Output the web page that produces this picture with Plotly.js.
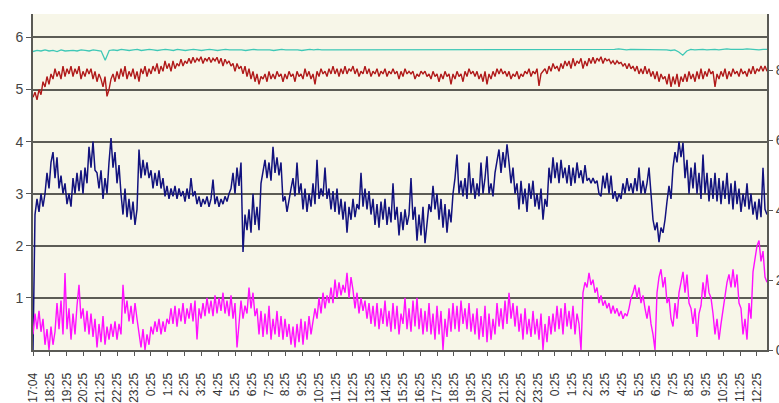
<!DOCTYPE html>
<html>
<head>
<meta charset="utf-8">
<script src="https://cdn.plot.ly/plotly-3.0.1.min.js"></script>
<style>
html,body{margin:0;padding:0;background:#fff;}
#chart{width:779px;height:403px;}
</style>
</head>
<body>
<div id="chart"></div>
<script>
// Time labels along the x axis (one per hour tick)
const timeLabels = ['17:04','18:25','19:25','20:25','21:25','22:25','23:25',
  '0:25','1:25','2:25','3:25','4:25','5:25','6:25','7:25','8:25','9:25','10:25','11:25',
  '12:25','13:25','14:25','15:25','16:25','17:25','18:25','19:25','20:25','21:25','22:25','23:25',
  '0:25','1:25','2:25','3:25','4:25','5:25','6:25','7:25','8:25','9:25','10:25','11:25','12:25'];

// Span of the record, in hour-tick units
const recordSpan = 43.6;

// Series values (equally spaced samples over the whole record)
const tealValues = [
  5.73,5.75,5.74,5.76,5.74,5.75,5.73,5.76,5.74,5.75, 5.75,5.74,5.76,5.75,5.74,5.76,5.75,5.74,5.56,5.75,
  5.76,5.75,5.77,5.76,5.75,5.76,5.77,5.75,5.76,5.77, 5.76,5.75,5.76,5.77,5.76,5.75,5.77,5.76,5.75,5.76,
  5.77,5.76,5.75,5.76,5.77,5.76,5.75,5.76,5.77,5.76, 5.76,5.77,5.76,5.75,5.76,5.77,5.76,5.76,5.77,5.76,
  5.75,5.76,5.77,5.76,5.76,5.77,5.76,5.75,5.76,5.77, 5.76,5.77,5.76,5.76,5.77,5.76,5.77,5.76,5.76,5.77,
  5.76,5.77,5.76,5.77,5.76,5.76,5.77,5.76,5.77,5.76, 5.77,5.76,5.77,5.77,5.76,5.77,5.76,5.77,5.76,5.77,
  5.76,5.77,5.77,5.76,5.77,5.76,5.77,5.77,5.76,5.77, 5.77,5.76,5.77,5.76,5.77,5.77,5.76,5.77,5.76,5.77,
  5.77,5.76,5.77,5.77,5.76,5.77,5.77,5.76,5.77,5.77, 5.76,5.77,5.77,5.76,5.77,5.76,5.77,5.77,5.76,5.77,
  5.77,5.76,5.77,5.77,5.76,5.77,5.78,5.77,5.76,5.77, 5.77,5.76,5.77,5.76,5.77,5.77,5.76,5.77,5.76,5.75,
  5.76,5.72,5.66,5.74,5.77,5.76,5.77,5.77,5.76,5.77, 5.77,5.76,5.77,5.78,5.77,5.77,5.76,5.77,5.78,5.77,
  5.77,5.76,5.77,5.77];

const redValues = [
  4.85,4.95,4.8,5.0,4.9,5.15,5.05,5.25,5.1,5.3, 5.2,5.4,5.25,5.35,5.2,5.45,5.25,5.4,5.3,5.45,
  5.25,5.4,5.3,5.45,5.2,5.35,5.25,5.4,5.3,5.4, 5.2,5.35,5.15,5.3,5.2,5.05,5.25,4.87,5.0,5.2,
  5.3,5.15,5.35,5.2,5.4,5.25,5.45,5.2,5.35,5.25, 5.4,5.2,5.35,5.15,5.4,5.3,5.45,5.25,5.4,5.3,
  5.45,5.35,5.5,5.3,5.45,5.35,5.55,5.4,5.5,5.35, 5.55,5.4,5.5,5.45,5.58,5.45,5.55,5.5,5.6,5.5,
  5.62,5.52,5.6,5.55,5.63,5.5,5.6,5.55,5.62,5.52, 5.6,5.55,5.62,5.5,5.6,5.45,5.58,5.5,5.55,5.45,
  5.5,5.35,5.5,5.4,5.45,5.3,5.45,5.25,5.4,5.2, 5.35,5.15,5.3,5.1,5.25,5.2,5.3,5.15,5.35,5.2,
  5.3,5.2,5.35,5.25,5.3,5.15,5.3,5.2,5.35,5.25, 5.3,5.15,5.35,5.25,5.3,5.2,5.4,5.25,5.35,5.2,
  5.3,5.1,5.35,5.25,5.4,5.3,5.35,5.25,5.4,5.3, 5.45,5.3,5.4,5.25,5.4,5.3,5.45,5.3,5.4,5.35,
  5.45,5.3,5.4,5.25,5.35,5.3,5.45,5.3,5.4,5.25, 5.35,5.3,5.4,5.25,5.35,5.3,5.4,5.25,5.35,5.3,
  5.4,5.3,5.35,5.2,5.35,5.25,5.4,5.3,5.35,5.3, 5.35,5.2,5.3,5.25,5.35,5.3,5.35,5.25,5.3,5.2,
  5.35,5.25,5.3,5.15,5.3,5.2,5.35,5.25,5.3,5.1, 5.3,5.2,5.35,5.25,5.3,5.15,5.35,5.25,5.4,5.3,
  5.35,5.25,5.35,5.2,5.3,5.15,5.35,5.1,5.3,5.2, 5.35,5.25,5.4,5.3,5.4,5.3,5.35,5.25,5.35,5.2,
  5.3,5.25,5.35,5.2,5.3,5.25,5.35,5.3,5.4,5.25, 5.35,5.3,5.4,5.07,5.3,5.35,5.4,5.3,5.45,5.35,
  5.5,5.4,5.45,5.35,5.5,5.4,5.55,5.45,5.55,5.4, 5.6,5.45,5.55,5.5,5.6,5.4,5.55,5.45,5.6,5.5,
  5.62,5.5,5.6,5.55,5.63,5.5,5.6,5.55,5.58,5.5, 5.55,5.48,5.55,5.5,5.52,5.45,5.5,5.4,5.5,5.4,
  5.45,5.35,5.45,5.3,5.4,5.3,5.45,5.3,5.4,5.25, 5.35,5.2,5.35,5.15,5.3,5.2,5.25,5.1,5.3,5.05,
  5.25,5.1,5.3,5.05,5.25,5.15,5.3,5.15,5.35,5.2, 5.3,5.15,5.35,5.2,5.4,5.2,5.35,5.25,5.4,5.3,
  5.35,5.05,5.3,5.2,5.35,5.25,5.4,5.2,5.35,5.25, 5.4,5.3,5.35,5.25,5.4,5.3,5.35,5.25,5.4,5.3,
  5.45,5.3,5.4,5.35,5.45,5.35,5.45,5.35];

const blueValues = [
  0.0,2.6,2.9,2.65,3.0,2.75,3.0,3.4,3.1,3.6, 3.8,3.3,3.7,3.1,3.35,3.0,3.2,2.8,3.0,2.75,
  3.3,3.0,3.4,3.05,3.45,3.0,3.5,3.2,3.9,3.5, 4.0,3.45,3.4,3.1,3.45,2.9,3.3,3.0,3.6,4.07,
  3.5,3.8,3.2,3.55,3.0,2.6,3.1,2.55,2.9,2.5, 2.85,2.4,2.7,3.85,3.3,3.65,3.35,3.6,3.3,3.45,
  3.1,3.4,3.15,3.45,3.1,3.3,2.95,3.15,2.9,3.1, 2.95,3.15,2.9,3.1,2.95,3.05,2.85,3.1,2.9,3.3,
  2.95,3.05,2.8,2.95,2.75,2.9,2.8,2.95,2.75,2.9, 3.27,2.8,2.95,2.75,2.9,2.8,2.95,2.85,3.0,3.1,
  3.4,3.0,3.5,3.15,3.6,1.88,2.6,2.3,2.7,2.25, 3.0,2.4,2.75,2.3,3.2,3.4,3.65,3.3,3.6,3.25,
  3.9,3.4,3.7,3.35,3.6,2.85,2.95,2.65,2.9,3.1, 3.3,2.95,3.6,3.0,3.2,2.7,3.1,2.65,3.0,2.75,
  3.2,2.8,3.65,2.9,3.1,2.95,3.5,2.9,3.1,2.7, 3.05,2.65,3.1,2.6,2.9,2.5,2.85,2.25,2.75,2.5,
  2.9,2.55,2.8,2.7,3.4,2.75,3.1,2.7,3.05,2.6, 2.9,2.4,2.8,2.35,2.85,2.5,2.9,2.4,2.75,2.45,
  3.2,2.5,2.75,2.2,2.65,2.3,2.7,2.4,2.6,3.3, 2.5,2.75,2.1,2.6,2.2,2.75,2.05,2.5,2.8,2.65,
  3.15,2.7,3.0,2.5,2.9,2.35,2.8,2.25,2.7,2.45, 3.0,3.3,3.75,3.0,3.25,2.95,3.3,2.9,3.6,3.0,
  3.3,2.9,3.2,2.95,3.6,3.0,3.3,3.72,3.0,3.2, 2.95,3.4,3.6,3.85,3.4,3.8,3.5,3.95,3.6,3.2,
  3.5,3.0,3.2,2.7,3.25,2.8,3.1,2.65,3.2,2.9, 3.25,2.75,3.0,2.7,3.1,2.5,2.9,2.75,3.5,3.2,
  3.7,3.3,3.6,3.2,3.65,3.3,3.5,3.2,3.55,3.15, 3.5,3.2,3.6,3.3,3.45,3.2,3.55,3.25,3.3,3.2,
  3.3,3.2,3.25,3.0,2.95,3.35,3.1,3.4,3.0,3.35, 2.9,3.05,2.85,3.0,2.9,3.2,3.0,3.3,3.05,3.2,
  3.0,3.3,3.05,3.5,3.0,3.25,3.0,3.2,3.5,3.0, 2.5,2.3,2.45,2.07,2.35,2.25,2.5,2.85,3.15,2.9,
  3.5,3.8,3.6,4.0,3.7,3.98,3.3,3.65,3.0,3.5, 3.1,3.6,3.0,3.4,2.9,3.75,3.0,3.4,2.85,3.3,
  2.9,3.4,2.85,3.3,2.8,3.25,2.9,3.4,2.8,3.2, 2.7,3.25,2.8,3.1,2.65,3.0,2.75,3.2,2.7,3.0,
  2.6,2.85,2.5,2.9,2.55,3.5,2.7,2.6];

const magentaValues = [
  0.3,0.7,0.4,0.75,0.35,0.6,0.1,0.4,0.0,0.45, 0.1,0.35,0.9,0.4,0.95,0.3,1.48,0.4,0.8,0.2,
  0.7,0.3,0.85,1.25,0.6,0.8,0.35,0.75,0.3,0.7, 0.25,0.6,0.05,0.5,0.15,0.65,0.1,0.45,0.2,0.5,
  0.25,0.55,0.2,0.5,0.3,1.25,0.7,0.95,0.55,0.85, 0.5,0.9,0.6,0.35,0.05,0.4,0.0,0.3,0.1,0.45,
  0.3,0.55,0.35,0.6,0.3,0.55,0.35,0.6,0.5,0.8, 0.5,0.85,0.45,0.8,0.55,0.9,0.5,0.8,0.6,0.9,
  0.55,0.95,0.2,0.8,0.6,0.9,0.65,1.0,0.7,0.95, 0.65,1.05,0.7,1.0,0.75,1.1,0.7,0.95,0.65,1.05,
  0.6,0.9,0.05,0.5,0.95,0.6,0.85,0.7,1.2,0.8, 1.1,0.65,0.8,0.3,0.75,0.25,0.7,0.3,0.85,0.2,
  0.6,0.3,0.75,0.25,0.65,0.2,0.6,0.25,0.5,0.1, 0.45,0.05,0.5,0.15,0.6,0.1,0.55,0.2,0.65,0.3,
  0.55,0.8,0.6,1.0,0.7,1.1,0.8,1.05,0.9,1.2, 0.9,1.35,1.0,1.3,1.05,1.25,1.1,1.48,1.0,1.4,
  1.15,0.8,1.1,0.7,1.0,0.75,0.95,0.6,0.9,0.5, 0.85,0.45,0.9,0.4,0.8,0.5,0.95,0.45,0.75,0.35,
  0.9,0.4,0.85,0.3,0.7,0.5,1.0,0.4,0.8,0.35, 0.95,0.45,1.0,0.4,0.8,0.3,0.75,0.35,0.9,0.3,
  0.7,0.2,0.85,0.3,0.75,0.0,0.6,0.25,0.8,0.35, 0.9,0.4,0.85,0.35,0.95,0.5,0.8,0.4,0.9,0.35,
  0.7,0.3,0.8,0.2,0.65,0.25,0.85,0.15,0.7,0.2, 0.6,0.3,0.9,0.45,0.8,0.4,0.95,0.5,1.1,0.6,
  0.9,0.45,0.85,0.35,0.7,0.2,0.8,0.3,0.6,0.25, 0.75,0.3,0.6,0.2,0.7,0.0,0.5,0.15,0.65,0.3,
  0.7,0.35,0.85,0.4,0.8,0.3,0.9,0.45,0.75,0.4, 0.85,0.3,0.7,0.5,0.0,1.1,1.3,1.2,1.48,1.25,
  1.35,1.1,1.2,0.9,1.05,0.85,0.95,0.8,0.9,0.7, 0.85,0.7,0.8,0.65,0.75,0.6,0.7,0.65,0.8,1.0,
  1.1,1.25,1.0,1.2,0.9,1.05,0.8,0.6,0.85,0.5, 0.3,0.0,1.1,1.4,1.55,1.2,1.4,0.9,1.0,0.6,
  0.45,0.9,0.6,1.1,1.3,1.5,1.1,1.45,0.9,0.8, 0.5,0.8,0.25,0.7,0.85,1.3,1.0,1.45,1.1,1.0,
  0.7,0.3,0.6,0.2,0.5,0.8,1.0,1.3,1.45,1.2, 1.55,1.2,1.45,0.9,0.8,0.3,0.6,0.2,0.9,0.6,
  1.5,1.8,2.0,2.1,1.7,1.9,1.4,1.3];

function sampleTimes(values) {
  const n = values.length;
  return values.map((_, i) => i * recordSpan / (n - 1));
}

function series(values, color, width) {
  return {
    type: 'scatter', mode: 'lines',
    x: sampleTimes(values), y: values,
    line: {color: color, width: width},
    hoverinfo: 'skip', showlegend: false
  };
}

const traces = [
  series(tealValues, '#3fc8b6', 1.3),
  series(redValues, '#b01a1a', 1.4),
  series(blueValues, '#12127e', 1.5),
  series(magentaValues, '#ff10ff', 1.4),
  {type: 'scatter', mode: 'lines', x: [0, recordSpan], y: [null, null], yaxis: 'y2',
   hoverinfo: 'skip', showlegend: false}
];

const tickPositions = timeLabels.map((_, k) => k);

const layout = {
  width: 779, height: 403,
  margin: {l: 33, r: 12, t: 14, b: 53, pad: 0},
  paper_bgcolor: '#ffffff',
  plot_bgcolor: '#f7f6e8',
  font: {family: 'Liberation Sans, Arial, sans-serif', color: '#333333'},
  xaxis: {
    range: [0, recordSpan],
    tickmode: 'array', tickvals: tickPositions, ticktext: timeLabels,
    tickangle: -90, ticks: 'outside', ticklen: 4, tickwidth: 1, tickcolor: '#555',
    tickfont: {size: 12, color: '#333'},
    ticklabelstandoff: 12,
    showgrid: false, zeroline: false,
    showline: true, linecolor: '#5a5a55', linewidth: 2
  },
  yaxis: {
    range: [0, 6.45],
    tickmode: 'array', tickvals: [1, 2, 3, 4, 5, 6], ticktext: ['1','2','3','4','5','6'],
    ticks: 'outside', ticklen: 5, tickwidth: 1, tickcolor: '#555',
    tickfont: {size: 14, color: '#444'},
    showgrid: true, gridcolor: '#5c5c55', gridwidth: 2,
    zeroline: false,
    showline: true, linecolor: '#5a5a55', linewidth: 2
  },
  yaxis2: {
    overlaying: 'y', side: 'right',
    range: [0, 9.6],
    tickmode: 'array', tickvals: [0, 2, 4, 6, 8], ticktext: ['0','2','4','6','8'],
    ticks: 'outside', ticklen: 4, tickwidth: 1, tickcolor: '#555',
    tickfont: {size: 14, color: '#444'},
    showgrid: false, zeroline: false,
    showline: true, linecolor: '#5a5a55', linewidth: 2
  },
  showlegend: false
};

Plotly.newPlot('chart', traces, layout, {staticPlot: true, displayModeBar: false});
</script>
</body>
</html>
